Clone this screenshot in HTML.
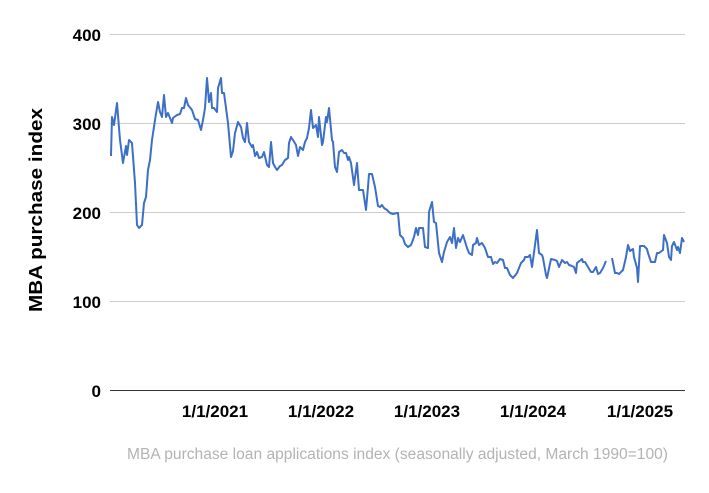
<!DOCTYPE html><html><head><style>body{margin:0;background:#fff}</style></head><body>
<svg width="709" height="488" xmlns="http://www.w3.org/2000/svg" style="font-family:'Liberation Sans',sans-serif">
<g stroke="#cccccc" stroke-width="1">
<line x1="110" x2="685" y1="34.5" y2="34.5"/><line x1="110" x2="685" y1="123.5" y2="123.5"/><line x1="110" x2="685" y1="212.5" y2="212.5"/><line x1="110" x2="685" y1="301.5" y2="301.5"/></g>
<line x1="110" x2="685" y1="390.5" y2="390.5" stroke="#333" stroke-width="1"/>
<g font-size="17" font-weight="bold" fill="#000" text-anchor="end">
<text x="101" y="41">400</text><text x="101" y="130">300</text><text x="101" y="219">200</text><text x="101" y="308">100</text><text x="101" y="397">0</text></g>
<g font-size="17" font-weight="bold" fill="#000" text-anchor="middle">
<text x="215" y="417">1/1/2021</text><text x="321" y="417">1/1/2022</text><text x="427" y="417">1/1/2023</text><text x="533" y="417">1/1/2024</text><text x="640" y="417">1/1/2025</text></g>
<text transform="translate(42,210) rotate(-90)" font-size="18" font-weight="bold" text-anchor="middle" textLength="204" lengthAdjust="spacingAndGlyphs">MBA purchase index</text>
<text x="127" y="459" font-size="15.5" fill="#b3b3b3" textLength="541" lengthAdjust="spacingAndGlyphs">MBA purchase loan applications index (seasonally adjusted, March 1990=100)</text>
<g fill="none" stroke="#3d6fc7" stroke-width="2" stroke-linejoin="round">
<polyline points="111,156 112,117 114,125 117,103 120,140 123,163 126,146 127,155 129,140 132,143 135,183 137,225 139,228 142,225 144,203 146,197 148,170 150,160 152,140 155,120 158,102 160,112 162,117 164,95 166,117 168,113 170,118 172,123 173,118 177,115 180,114 182,108 184,108 186,98 188,105 192,110 195,119 198,120 201,130 203,120 205,108 207,78 209,102 211,93 212,108 214,108 217,112 218,88 221,78 222,93 224,93 228,123 231,157 233,151 235,133 238,122 241,127 243,138 245,142 247,123 249,142 252,147 253,145 255,156 257,152 259,158 262,157 264,152 267,165 269,167 271,142 273,163 275,167 277,170 280,166 282,165 285,160 288,158 289,143 291,137 293,140 296,145 298,156 300,147 303,150 305,142 307,138 309,128 311,110 313,128 316,125 318,137 319,117 322,145 323,142 326,117 327,122 329,108 332,140 333,142 335,167 337,172 339,152 342,150 344,153 346,153 348,160 349,157 351,163 354,185 357,163 359,190 363,190 366,210 368,187 369,174 372,174 375,187 378,206 380,207 382,205 384,208 387,210 390,213 393,214 397,213 398,213 400,235 403,238 405,244 408,247 411,245 414,237 416,228 418,235 419,228 423,228 425,247 428,248 429,212 432,202 434,222 436,223 439,253 442,262 444,252 447,242 450,237 452,243 454,228 456,248 458,238 460,242 463,235 467,248 469,253 472,255 473,245 476,243 477,238 479,245 482,243 485,248 488,257 491,257 493,264 495,262 497,263 500,259 503,260 505,268 507,268 510,275 513,278 517,273 521,263 524,260 525,257 528,257 530,255 532,267 533,260 537,230 539,253 542,255 543,258 546,275 547,278 551,259 555,260 557,261 559,267 562,260 565,263 567,262 569,265 572,266 574,267 576,273 577,263 582,259 583,262 585,262 588,267 591,272 593,272 596,267 598,274 600,273 603,268 606,261"/>
<polyline points="612,258 615,273 617,273 619,274 623,270 626,257 628,245 630,251 633,249 634,257 637,268 638,282 640,246 644,246 647,249 648,253 651,262 655,262 657,253 659,253 663,250 664,235 667,243 669,257 671,260 672,246 674,242 677,250 678,247 680,253 682,238 684,242"/>
</g>
</svg></body></html>
